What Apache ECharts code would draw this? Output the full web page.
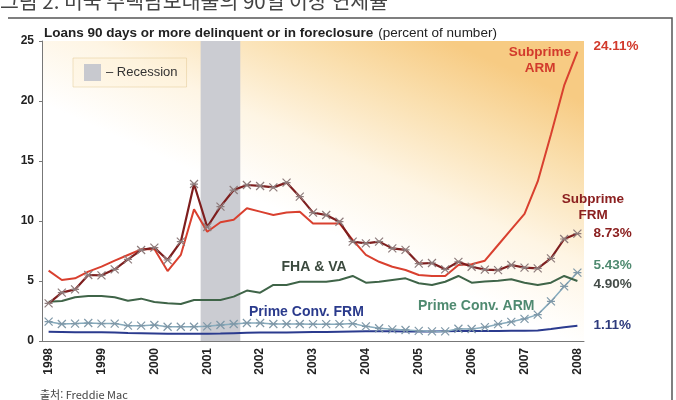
<!DOCTYPE html>
<html lang="ko">
<head>
<meta charset="UTF-8">
<title>미국 주택담보대출의 90일 이상 연체율</title>
<style>
    body { margin: 0; overflow: hidden; background: #fff; }
    #chart { width: 676px; height: 400px; }
</style>
</head>
<body>
<div id="chart"></div>
<script src="https://cdn.jsdelivr.net/npm/echarts@6/dist/echarts.min.js"></script>
<script>
// years on the axis, data is quarterly from 1998Q1 to 2008Q1
var years = ['1998', '1999', '2000', '2001', '2002', '2003', '2004', '2005', '2006', '2007', '2008'];
var recession = [2000.875, 2001.625];

var seriesNames = ['Subprime ARM', 'Subprime FRM', 'FHA & VA', 'Prime Conv. ARM', 'Prime Conv. FRM'];
var endTexts = ['24.11%', '8.73%', '4.90%', '5.43%', '1.11%'];

var subprimeARM = [5.86, 5.08, 5.22, 5.78, 6.2, 6.7, 7.17, 7.64, 7.67, 5.83, 7.17, 10.97, 9.1,
    9.9, 10.1, 11.06, 10.78, 10.5, 10.7, 10.78, 9.8, 9.8, 9.8, 8.42, 7.17, 6.6, 6.19, 5.92,
    5.5, 5.42, 5.42, 6.33, 6.4, 6.69, 8.0, 9.3, 10.6, 13.3, 17.2, 21.3, 24.11];
var subprimeFRM = [3.14, 4.03, 4.3, 5.5, 5.47, 5.97, 6.8, 7.58, 7.78, 6.75, 8.28, 13.08, 9.5,
    11.2, 12.58, 13.0, 12.92, 12.8, 13.2, 12.03, 10.7, 10.5, 9.94, 8.28, 8.14, 8.28, 7.72, 7.6,
    6.45, 6.5, 5.97, 6.6, 6.19, 5.95, 5.9, 6.33, 6.11, 6.05, 6.89, 8.5, 8.95];
var fhaVA = [3.28, 3.33, 3.64, 3.75, 3.75, 3.64, 3.36, 3.53, 3.25, 3.14, 3.08, 3.42, 3.42,
    3.42, 3.7, 4.2, 4.03, 4.67, 4.67, 4.94, 4.94, 4.94, 5.08, 5.42, 4.86, 4.94, 5.08, 5.22,
    4.81, 4.67, 4.94, 5.42, 4.86, 4.95, 5.03, 5.14, 4.86, 4.67, 4.86, 5.42, 5.0];
var primeARM = [1.61, 1.42, 1.45, 1.5, 1.45, 1.45, 1.28, 1.28, 1.33, 1.19, 1.19, 1.19, 1.22,
    1.33, 1.42, 1.5, 1.5, 1.42, 1.42, 1.42, 1.4, 1.4, 1.4, 1.45, 1.22, 1.06, 0.97, 0.92,
    0.85, 0.8, 0.8, 1.02, 1.0, 1.15, 1.4, 1.6, 1.85, 2.2, 3.3, 4.55, 5.7];
var primeFRM = [0.78, 0.75, 0.72, 0.72, 0.72, 0.7, 0.66, 0.64, 0.62, 0.6, 0.6, 0.6, 0.6,
    0.62, 0.65, 0.68, 0.7, 0.7, 0.7, 0.72, 0.74, 0.76, 0.78, 0.8, 0.82, 0.82, 0.82, 0.8,
    0.8, 0.8, 0.82, 0.84, 0.84, 0.84, 0.84, 0.85, 0.86, 0.88, 1.0, 1.15, 1.28];

// quarter categories, Q1 carries the year
var quarters = [];
years.forEach(function (y, i) {
    if (i === years.length - 1) { quarters.push(y); return; }
    quarters.push(y, y + 'Q2', y + 'Q3', y + 'Q4');
});

var font = '"Liberation Sans", Arial, sans-serif';
var star = 'path://M0,0L10,10M10,0L0,10M0,5L10,5';

function lineSeries(idx, data, color, width, opts) {
    var s = {
        name: seriesNames[idx],
        type: 'line',
        data: data,
        z: 3,
        symbol: 'none',
        lineStyle: { color: color, width: width },
        itemStyle: { color: color },
        emphasis: { disabled: true },
        endLabel: {
            show: true,
            formatter: endTexts[idx],
            distance: 16,
            fontFamily: font,
            fontWeight: 'bold',
            fontSize: 13.5,
            color: opts.labelColor,
            offset: opts.offset || [0, 0]
        }
    };
    if (opts.marker) {
        s.symbol = star;
        s.symbolSize = 8;
        s.showSymbol = true;
        s.itemStyle = { color: 'rgba(0,0,0,0)', borderColor: opts.marker, borderWidth: 1.2 };
    }
    return s;
}

var chart = echarts.init(document.getElementById('chart'));

var option = {
    animation: false,
    title: [{
        text: '그림 2. 미국 주택담보대출의 90일 이상 연체율',
        left: 0,
        top: -9,
        padding: 0,
        textStyle: { fontFamily: '"Noto Sans CJK KR"', fontSize: 20.5, fontWeight: 'normal', color: '#444' }
    }, {
        text: '{b|Loans 90 days or more delinquent or in foreclosure} {n|(percent of number)}',
        left: 44,
        top: 24,
        padding: 0,
        textStyle: {
            rich: {
                b: { fontFamily: font, fontSize: 13.5, fontWeight: 'bold', color: '#222' },
                n: { fontFamily: font, fontSize: 13.5, fontWeight: 'normal', color: '#222' }
            }
        }
    }],
    legend: {
        data: [{ name: 'Recession', icon: 'rect' }],
        left: 73,
        top: 58,
        padding: [6, 9, 6, 11],
        itemWidth: 17,
        itemHeight: 17,
        itemGap: 6,
        selectedMode: false,
        backgroundColor: 'rgba(255,238,205,0.3)',
        borderColor: 'rgba(225,195,140,0.45)',
        borderWidth: 1,
        formatter: function (n) { return '– ' + n; },
        textStyle: { fontFamily: font, fontSize: 13, color: '#333' }
    },
    grid: {
        left: 42,
        right: 92,
        top: 41,
        bottom: 59,
        show: true,
        borderWidth: 0,
        backgroundColor: new echarts.graphic.LinearGradient(0.75, 0, 0.5, 1, [
            { offset: 0, color: '#f7cb83' },
            { offset: 0.2, color: '#fadfae' },
            { offset: 0.45, color: '#fef5e4' },
            { offset: 0.68, color: '#ffffff' },
            { offset: 1, color: '#ffffff' }
        ])
    },
    xAxis: [{
        type: 'category',
        data: quarters,
        boundaryGap: true,
        axisLine: { lineStyle: { color: '#777', width: 1 } },
        axisTick: { interval: 0, alignWithLabel: true, length: 4, lineStyle: { color: '#777' } },
        axisLabel: {
            interval: 3,
            rotate: 90,
            margin: 7,
            fontFamily: font,
            fontWeight: 'bold',
            fontSize: 12,
            color: '#222'
        },
        splitLine: { show: false }
    }, {
        type: 'value',
        min: 1997.875,
        max: 2008.125,
        show: false
    }],
    yAxis: {
        type: 'value',
        min: 0,
        max: 25,
        interval: 5,
        axisLine: { show: true, lineStyle: { color: '#777', width: 1 } },
        axisTick: { show: true, length: 3, lineStyle: { color: '#777' } },
        axisLabel: { fontFamily: font, fontWeight: 'bold', fontSize: 12, color: '#222', margin: 8 },
        splitLine: { show: false }
    },
    series: [
        {
            name: 'Recession',
            type: 'line',
            xAxisIndex: 1,
            data: [],
            z: 1,
            itemStyle: { color: '#c8c9cf' },
            lineStyle: { color: '#c8c9cf' },
            markArea: {
                silent: true,
                itemStyle: { color: '#cbccd2' },
                data: [[{ xAxis: recession[0] }, { xAxis: recession[1] }]]
            }
        },
        lineSeries(4, primeFRM, '#2b3b8e', 2, { labelColor: '#2d3a7c' }),
        lineSeries(3, primeARM, '#86abbd', 1.5, { labelColor: '#4f8a70', marker: '#7f98a8', offset: [0, -7] }),
        lineSeries(2, fhaVA, '#3f6448', 2, { labelColor: '#444c48', offset: [0, 3] }),
        lineSeries(0, subprimeARM, '#d9402f', 2, { labelColor: '#d23a2c', offset: [0, -5] }),
        lineSeries(1, subprimeFRM, '#7e1e1e', 2.2, { labelColor: '#8b2020', marker: '#8e7c7c' })
    ],
    graphic: [
        {
            type: 'polyline',
            shape: { points: [[8, 18], [672, 18], [672, 400]] },
            style: { stroke: '#555', lineWidth: 1.5, fill: null },
            silent: true
        },
        {
            type: 'text', x: 540, y: 44,
            style: { text: 'Subprime\nARM', align: 'center', fontFamily: font, fontSize: 13.5, fontWeight: 'bold', fill: '#d23a2c', lineHeight: 16 }
        },
        {
            type: 'text', x: 593, y: 191,
            style: { text: 'Subprime\nFRM', align: 'center', fontFamily: font, fontSize: 13.5, fontWeight: 'bold', fill: '#8b2020', lineHeight: 16 }
        },
        {
            type: 'text', x: 314, y: 267,
            style: { text: 'FHA & VA', align: 'center', verticalAlign: 'middle', fontFamily: font, fontSize: 14, fontWeight: 'bold', fill: '#3b4a3e' }
        },
        {
            type: 'text', x: 249, y: 312,
            style: { text: 'Prime Conv. FRM', verticalAlign: 'middle', fontFamily: font, fontSize: 14, fontWeight: 'bold', fill: '#2a3a8c' }
        },
        {
            type: 'text', x: 418, y: 306,
            style: { text: 'Prime Conv. ARM', verticalAlign: 'middle', fontFamily: font, fontSize: 14, fontWeight: 'bold', fill: '#4f8a70' }
        },
        {
            type: 'text', x: 40, y: 389,
            style: { text: '출처: Freddie Mac', fontFamily: '"Noto Sans CJK KR"', fontSize: 11, fill: '#444' }
        }
    ]
};

chart.setOption(option);
</script>
</body>
</html>
